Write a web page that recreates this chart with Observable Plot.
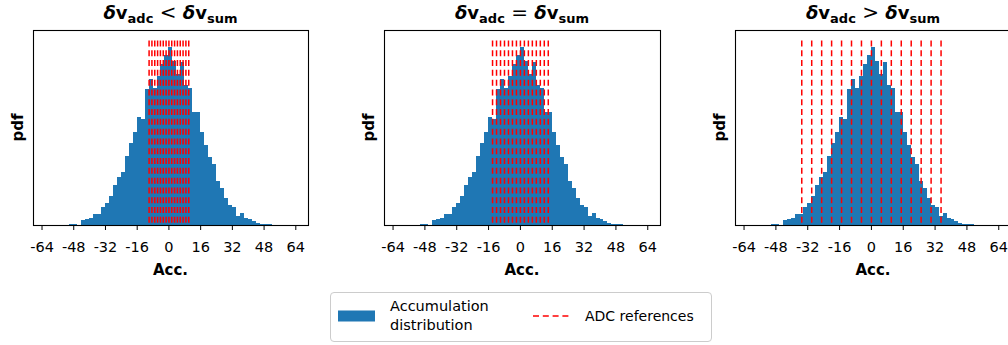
<!DOCTYPE html>
<html>
<head>
<meta charset="utf-8">
<script src="https://cdn.jsdelivr.net/npm/d3@7"></script>
<script src="https://cdn.jsdelivr.net/npm/@observablehq/plot@0.6"></script>
<style>
  body { margin: 0; background: #fff; }
  #root { position: relative; width: 1008px; height: 345px; overflow: hidden; font-family: "DejaVu Sans", sans-serif; }
  #root > svg.plotsvg { position: absolute; top: 0; }
  #overlay { position: absolute; left: 0; top: 0; pointer-events: none; }
</style>
</head>
<body>
<div id="root"></div>
<script>
// ---- data (histogram of accumulation, bins of width 2) ----
const binStart = [-54,-52,-50,-48,-46,-44,-42,-40,-38,-36,-34,-32,-30,-28,-26,-24,-22,-20,-18,-16,-14,-12,-10,-8,-6,-4,-2,
                  0,2,4,6,8,10,12,14,16,18,20,22,24,26,28,30,32,34,36,38,40,42,44,46,48,50,52,54,56,58,60,62];
const pdfValues = [0.00005,0.00005,0.0002,0.0002,0.00005,0.0007,0.0009,0.0011,0.0017,0.0017,0.0027,0.0034,0.0044,0.0062,0.0073,0.0082,0.0106,0.0125,0.0142,0.0165,0.0163,0.0208,0.0224,0.0210,0.0229,0.0247,0.0260,
                   0.0273,0.0252,0.0231,0.0250,0.0214,0.0210,0.0173,0.0173,0.0143,0.0123,0.0105,0.0093,0.0068,0.0057,0.0042,0.0031,0.0028,0.0014,0.0019,0.0011,0.0009,0.0006,0.00026,0.0002,0.0001,0.0001,0.00005,0.00005,0.00005,0.00005,0.00005,0.00005];
const binWidth = 2;

// ADC reference levels for each panel
const refsLess    = [-10,-8.57,-7.14,-5.71,-4.29,-2.86,-1.43,0,1.43,2.86,4.29,5.71,7.14,8.57,10];
const refsEqual   = [-14,-12,-10,-8,-6,-4,-2,0,2,4,6,8,10,12,14];
const refsGreater = [-35,-30,-25,-20,-15,-10,-5,0,5,10,15,20,25,30,35];
const refHeight = 0.0283;

const xTicks = [-64,-48,-32,-16,0,16,32,48,64];
const xDomain = [-68.3, 70.4];
const yMax = 0.0299;

const relations = ["<", "=", ">"];
const xLabel = "Acc.";
const yLabel = "pdf";
const legendLabels = [["Accumulation", "distribution"], ["ADC references"]];

// ---- build ----
const rows = binStart.map((x0, i) => ({x1: x0, x2: x0 + binWidth, y: pdfValues[i]}));
const BLUE = "#1f77b4";
const DASH = "6,3.8";

const root = document.getElementById("root");

// panel layout: svg left offset, marginLeft, frame width
const panels = [
  {refs: refsLess,    left: 0,   ml: 33, fw: 275},
  {refs: refsEqual,   left: 340, ml: 44, fw: 276},
  {refs: refsGreater, left: 690, ml: 45, fw: 276}
];

panels.forEach(p => {
  const svg = Plot.plot({
    width: p.ml + p.fw + 20,
    height: 290,
    marginLeft: p.ml, marginRight: 20, marginTop: 30, marginBottom: 65,
    x: {domain: xDomain},
    y: {domain: [0, yMax], axis: null},
    style: {fontFamily: "DejaVu Sans", fontSize: "14.5px", color: "#000", background: "transparent", overflow: "visible"},
    marks: [
      Plot.rectY(rows, {x1: "x1", x2: "x2", y: "y", fill: BLUE, shapeRendering: "crispEdges"}),
      Plot.ruleX(p.refs, {x: d => d, y1: refHeight, y2: 0, stroke: "red", strokeWidth: 1.5, strokeDasharray: DASH}),
      Plot.frame({stroke: "#000", strokeWidth: 1.1}),
      Plot.axisX({ticks: xTicks, tickFormat: d => String(d), tickSize: 5, tickPadding: 11, label: null, stroke: "#000", fill: "#000"})
    ]
  });
  svg.classList.add("plotsvg");
  svg.style.left = p.left + "px";
  root.appendChild(svg);
});

// overlay with titles, axis labels and legend
const ov = d3.select(root).append("svg").attr("id", "overlay").attr("width", 1008).attr("height", 345)
  .attr("font-family", "DejaVu Sans");

panels.forEach((p, i) => {
  const fx0 = p.left + p.ml, fx1 = fx0 + p.fw, cx = (fx0 + fx1) / 2;
  const t = ov.append("text").attr("x", cx).attr("y", 19).attr("text-anchor", "middle")
    .attr("font-size", 18).attr("font-weight", "bold");
  t.append("tspan").attr("font-style", "italic").text("δ");
  t.append("tspan").text("v");
  t.append("tspan").attr("font-size", 13).attr("dy", 4).text("adc");
  t.append("tspan").attr("dy", -4).attr("font-weight", "normal").attr("font-size", 20).text(" " + relations[i] + " ");
  t.append("tspan").attr("font-style", "italic").text("δ");
  t.append("tspan").text("v");
  t.append("tspan").attr("font-size", 13).attr("dy", 4).text("sum");

  ov.append("text").attr("x", cx).attr("y", 275).attr("text-anchor", "middle")
    .attr("font-size", 15).attr("font-weight", "bold").text(xLabel);
  ov.append("text").attr("transform", `translate(${fx0 - 15.5},127.5) rotate(-90)`)
    .attr("text-anchor", "middle").attr("dy", "0.35em")
    .attr("font-size", 15).attr("font-weight", "bold").text(yLabel);
});

// legend
const lg = ov.append("g");
lg.append("rect").attr("x", 330.5).attr("y", 292.5).attr("width", 381).attr("height", 49).attr("rx", 3.5)
  .attr("fill", "#fff").attr("stroke", "#cccccc").attr("stroke-width", 1);
lg.append("rect").attr("x", 338).attr("y", 310.5).attr("width", 37).attr("height", 11).attr("fill", BLUE);
lg.append("text").attr("x", 390).attr("y", 311).attr("font-size", 14.5).text(legendLabels[0][0]);
lg.append("text").attr("x", 390).attr("y", 330).attr("font-size", 14.5).text(legendLabels[0][1]);
lg.append("line").attr("x1", 533).attr("x2", 570).attr("y1", 316).attr("y2", 316)
  .attr("stroke", "red").attr("stroke-width", 1.5).attr("stroke-dasharray", DASH);
lg.append("text").attr("x", 585).attr("y", 321).attr("font-size", 14).text(legendLabels[1][0]);
</script>
</body>
</html>
